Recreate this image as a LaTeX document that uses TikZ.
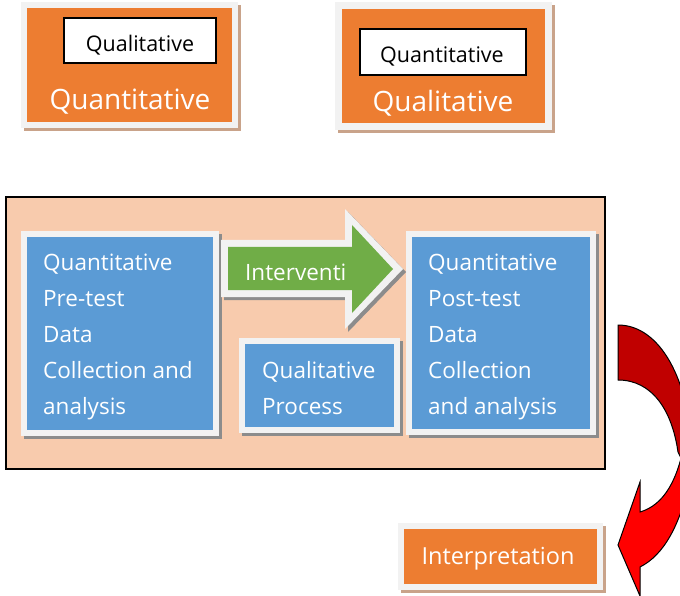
\documentclass[tikz,border=0pt]{standalone}
\usepackage{fontspec}
\setmainfont{Open Sans}
\definecolor{orng}{HTML}{ED7D31}
\definecolor{blu}{HTML}{5B9BD5}
\definecolor{grn}{HTML}{70AD47}
\definecolor{peach}{HTML}{F8CBAD}
\definecolor{frm}{HTML}{F2F2F2}
\definecolor{brsh}{HTML}{C9A38A}
\definecolor{gsh}{HTML}{8C8C8C}
\definecolor{dred}{HTML}{C00000}
\definecolor{bred}{HTML}{FF0000}
\newcommand\mybox[7]{% x1 y1 x2 y2 fill shadow thickness
  \fill[#6] (#1+3,#2+3) rectangle (#3+3,#4+3);
  \fill[frm] (#1,#2) rectangle (#3,#4);
  \fill[#5] (#1+#7,#2+#7) rectangle (#3-#7,#4-#7);
}
\tikzset{
  wtxt/.style={text=white,inner sep=0pt,font=\fontsize{22.5}{36}\selectfont},
  bigtxt/.style={text=white,inner sep=0pt,anchor=base,font=\fontsize{28}{30}\selectfont},
  btxt/.style={text=black,inner sep=0pt,anchor=base,font=\fontsize{21.5}{24}\selectfont},
  whitebox/.style={fill=white,draw=black,line width=1.2pt}
}
\begin{document}
\begin{tikzpicture}[x=1pt,y=-1pt]
\useasboundingbox (0,0) rectangle (680,596);
% top boxes
\mybox{21}{2}{238}{128}{orng}{brsh}{6}
\draw[whitebox] (64,18) rectangle (216,63);
\node[btxt] (q1) at (140,52) {Qualitative};
\node[bigtxt] (Q1) at (130,110) {Quantitative};
\mybox{335}{2}{552}{130}{orng}{brsh}{7}
\draw[whitebox] (360,29) rectangle (526,75);
\node[btxt] (q2) at (442,63) {Quantitative};
\node[bigtxt] (Q2) at (443,112) {Qualitative};
% panel
\draw[fill=peach,draw=black,line width=1.2pt] (6,197) rectangle (605,469);
\mybox{21}{231}{219}{436}{blu}{gsh}{6}
\mybox{406}{231}{596}{435}{blu}{gsh}{6}
\mybox{239}{338}{400}{433}{blu}{gsh}{6}
\foreach \t [count=\i] in {Quantitative,Pre-test,Data,Collection and,analysis}
  \node[wtxt,anchor=base west] (L\i) at (43,270+36*\i-36) {\t};
\foreach \t [count=\i] in {Quantitative,Post-test,Data,Collection,and analysis}
  \node[wtxt,anchor=base west] (R\i) at (428,270+36*\i-36) {\t};
\node[wtxt,anchor=base west] (P1) at (262,378) {Qualitative};
\node[wtxt,anchor=base west] (P2) at (262,414) {Process};
% green arrow
\fill[gsh] (224,243) -- (348,243) -- (348,212) -- (406,272) -- (348,332) -- (348,300) -- (224,300) -- cycle;
\fill[frm] (221,240) -- (345,240) -- (345,209) -- (403,269) -- (345,329) -- (345,297) -- (221,297) -- cycle;
\fill[grn] (228,247) -- (352,247) -- (352,225) -- (393,269) -- (352,313) -- (352,290) -- (228,290) -- cycle;
\node[wtxt,anchor=base west] (I) at (245,280) {Interventi};
% interpretation
\mybox{398}{523}{603}{590}{orng}{brsh}{6}
\node[wtxt,anchor=base,font=\fontsize{23.5}{26}\selectfont] (Int) at (498,564) {Interpretation};
% red curved arrow
\begin{scope}
\clip (0,0) rectangle (680,596);
\draw[fill=dred,line width=1pt,line join=round] (618,325) .. controls (660,325) and (690,380) .. (692,455) -- (692,480) -- (678,452) .. controls (672,410) and (652,380) .. (618,380) -- cycle;
\draw[fill=bred,line width=1pt,line join=miter] (685,440) .. controls (678,480) and (664,505) .. (640,512) -- (640,482) -- (618,545) -- (640,596) -- (640,567) .. controls (664,555) and (680,525) .. (690,480) -- cycle;
\end{scope}
\end{tikzpicture}
\end{document}
